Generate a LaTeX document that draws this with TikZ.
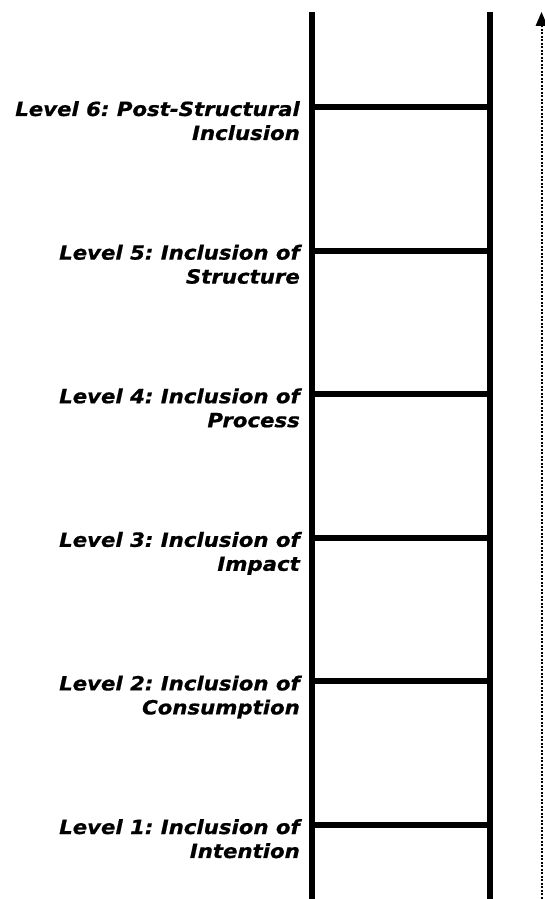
\documentclass[tikz,border=0pt]{standalone}
\usepackage{fontspec}
\setmainfont[FakeStretch=1.09, BoldItalicFeatures={FakeBold=0.8}]{DejaVu Sans}
\usepackage{tikz}
\usetikzlibrary{arrows.meta, positioning}
\tikzset{rail/.style={line width=6pt},
	lvl/.style={anchor=base east, align=right, inner sep=0pt, font=\fontsize{19.5}{24}\selectfont\bfseries\itshape}}
\frenchspacing

\begin{document}
\begin{tikzpicture}[x=1pt, y=1pt]
\useasboundingbox (0,0) rectangle (544,899);

\coordinate (lb) at (311.5,0);
\coordinate (lt) at (311.5,887);
\coordinate (rb) at (490,0);
\coordinate (rt) at (490,887);
\draw[rail](lb)--(lt);
\draw[rail](rb)--(rt);

\foreach \y in {792,648.4,504.8,361.2,217.6,74}
	\draw[rail](311.5,\y)--(490,\y);

\node[lvl] (l6) at (300,759) {Level 6: Post-Structural\\Inclusion};
\node[lvl] (l5) at (300,615.4) {Level 5: Inclusion of\\Structure};
\node[lvl] (l4) at (300,471.8) {Level 4: Inclusion of\\Process};
\node[lvl] (l3) at (300,328.2) {Level 3: Inclusion of\\Impact};
\node[lvl] (l2) at (300,184.6) {Level 2: Inclusion of\\Consumption};
\node[lvl] (l1) at (300,41) {Level 1: Inclusion of\\Intention};

% dotted arrow up the right side
\coordinate (ab) at (541.5,0);
\coordinate (ah) at (541.5,873);
\coordinate (at) at (541.5,887);
\draw[line width=2pt, dash pattern=on 2pt off 1.5pt](ab)--(ah);
\fill(at)--([xshift=-6pt]ah)--([xshift=6pt]ah)--cycle;

\end{tikzpicture}
\end{document}
